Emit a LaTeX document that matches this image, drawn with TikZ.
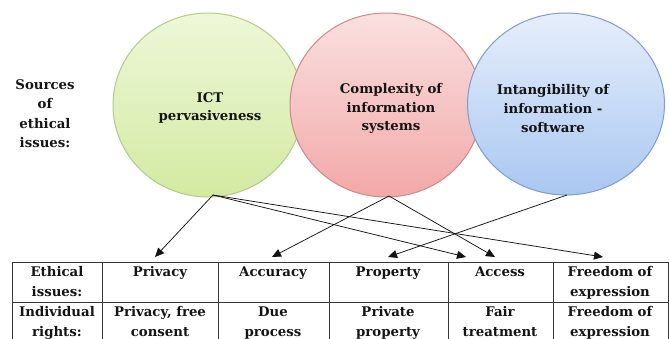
\documentclass[tikz,border=0pt]{standalone}
\usepackage{fontspec}
\setmainfont{DejaVu Serif}
\usetikzlibrary{shapes.geometric,arrows.meta}
\definecolor{gfillA}{HTML}{EEF7D8}
\definecolor{gfillB}{HTML}{D3EAA2}
\definecolor{gline}{HTML}{B2CC86}
\definecolor{rfillA}{HTML}{FAE0E0}
\definecolor{rfillB}{HTML}{F2A8A8}
\definecolor{rline}{HTML}{D08888}
\definecolor{bfillA}{HTML}{E6EEFB}
\definecolor{bfillB}{HTML}{A9C7F1}
\definecolor{bline}{HTML}{7E9CCC}
\definecolor{ink}{HTML}{141414}
\tikzset{
  src/.style={ellipse, inner sep=0pt, line width=1pt},
  srctext/.style={font=\bfseries\fontsize{13.3}{18.8}\selectfont, align=center, text=ink},
  cell/.style={font=\bfseries\fontsize{13.3}{20}\selectfont, align=center, anchor=north, inner xsep=0pt, inner ysep=4.5pt, text=ink},
  grid/.style={line width=0.8pt, draw=ink!85},
  arr/.style={line width=0.75pt, draw=ink, -{Triangle[length=9pt,width=8pt]}}
}
\begin{document}
\begin{tikzpicture}[x=1pt,y=-1pt]
\useasboundingbox (0,0) rectangle (669,338);
\clip (0,0) rectangle (669,338);
\fill[white] (0,0) rectangle (669,338);

% source circles
\node[src, draw=gline, top color=gfillA, bottom color=gfillB, minimum width=190pt, minimum height=184pt] (g) at (208,105) {};
\node[src, draw=rline, top color=rfillA, bottom color=rfillB, minimum width=192pt, minimum height=184pt] (r) at (386,105) {};
\node[src, draw=bline, top color=bfillA, bottom color=bfillB, minimum width=197pt, minimum height=182pt] (b) at (566,104) {};

\node[srctext] (gt) at (210,108) {ICT\\pervasiveness};
\node[srctext] (rt) at (391,108.5) {Complexity of\\information\\systems};
\node[srctext] (bt) at (553,108.5) {Intangibility of\\information -\\software};

\node[srctext, font=\bfseries\fontsize{13.3}{19.5}\selectfont] (lab) at (45,113.5) {Sources\\of\\ethical\\issues:};

% table
\draw[grid] (12,262) rectangle (668,345);
\draw[grid] (12,302) -- (668,302);
\foreach \x in {102,218,329,448,553} \draw[grid] (\x,262) -- (\x,345);

\node[cell] (h0) at (57,262) {Ethical\\issues:};
\node[cell] (h1) at (160,262) {Privacy};
\node[cell] (h2) at (273,262) {Accuracy};
\node[cell] (h3) at (388,262) {Property};
\node[cell] (h4) at (500,262) {Access};
\node[cell] (h5) at (610,262) {Freedom of\\expression};

\node[cell] (r0) at (57,302) {Individual\\rights:};
\node[cell] (r1) at (160,302) {Privacy, free\\consent};
\node[cell] (r2) at (273,302) {Due\\process};
\node[cell] (r3) at (388,302) {Private\\property};
\node[cell] (r4) at (500,302) {Fair\\treatment};
\node[cell] (r5) at (610,302) {Freedom of\\expression};

% arrow targets
\coordinate (tPriv) at (155,257);
\coordinate (tAcc) at (272,257);
\coordinate (tProp) at (388,257);
\coordinate (tAccessA) at (466,257);
\coordinate (tAccessB) at (495,257);
\coordinate (tFree) at (603,257);

\coordinate (gs) at (213,195);
\coordinate (rs) at (389,196);
\coordinate (bs) at (567,195);

\draw[arr] (gs) -- (tPriv);
\draw[arr] (gs) -- (tAccessA);
\draw[arr] (gs) -- (tFree);
\draw[arr] (rs) -- (tAcc);
\draw[arr] (rs) -- (tAccessB);
\draw[arr] (bs) -- (tProp);
\end{tikzpicture}
\end{document}
